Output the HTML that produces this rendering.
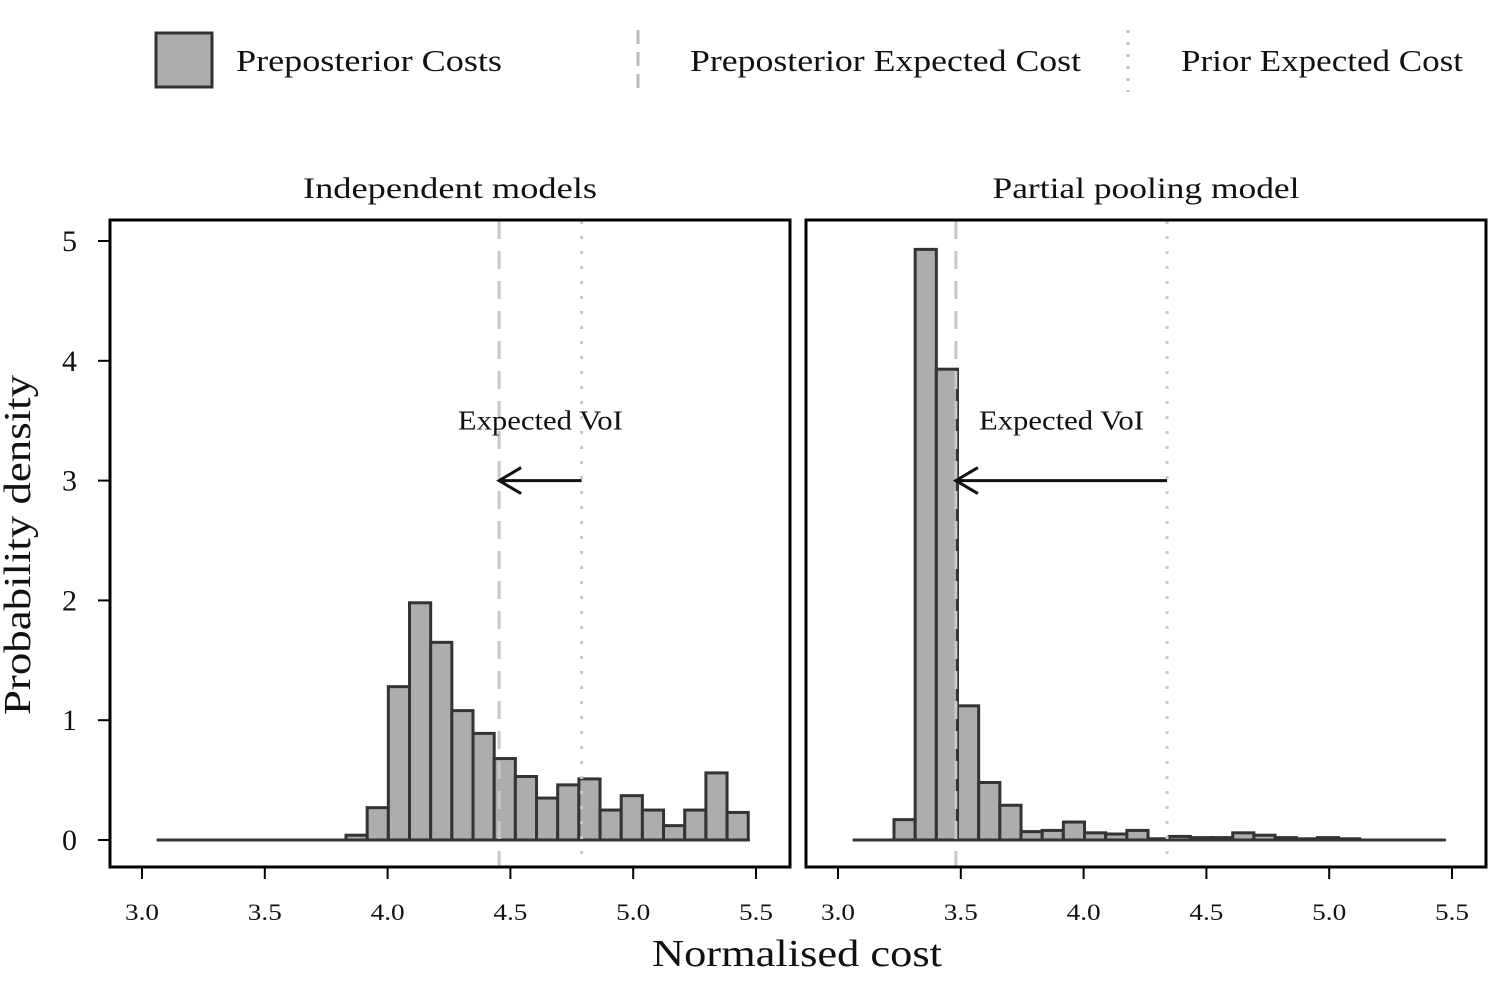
<!DOCTYPE html>
<html><head><meta charset="utf-8"><style>
body{margin:0;background:#fff;}
svg text{font-family:"Liberation Serif",serif;fill:#111;}
</style></head><body>
<svg id="chart" width="1504" height="979">
<g>
<rect x="156" y="33" width="56" height="54" fill="#adadad" stroke="#333" stroke-width="3"/>
<text x="236" y="71" font-size="31" textLength="266" lengthAdjust="spacingAndGlyphs">Preposterior Costs</text>
<line x1="638" y1="30" x2="638" y2="92" stroke="#bbb" stroke-width="3" stroke-dasharray="14,8"/>
<text x="690" y="71" font-size="31" textLength="391" lengthAdjust="spacingAndGlyphs">Preposterior Expected Cost</text>
<line x1="1128" y1="30" x2="1128" y2="92" stroke="#bbb" stroke-width="3" stroke-dasharray="3,9"/>
<text x="1181" y="71" font-size="31" textLength="282" lengthAdjust="spacingAndGlyphs">Prior Expected Cost</text>
</g>
<text x="30" y="545" font-size="38" text-anchor="middle" textLength="340" lengthAdjust="spacingAndGlyphs" transform="rotate(-90 30 545)">Probability density</text>
<text x="797" y="966" font-size="38" text-anchor="middle" textLength="290" lengthAdjust="spacingAndGlyphs">Normalised cost</text>
<g id="panels"></g>
</svg>
<script>
const leftStart = 3.8306;
const rightStart = 3.228;
const binWidth = 0.0862;
const leftDensity = [0.04,0.27,1.28,1.98,1.65,1.08,0.89,0.68,0.53,0.35,0.46,0.51,0.25,0.37,0.25,0.12,0.25,0.56,0.23];
const rightDensity = [0.17,4.93,3.93,1.12,0.48,0.29,0.07,0.08,0.15,0.06,0.05,0.08,0.01,0.03,0.02,0.02,0.06,0.04,0.02,0.01,0.02,0.01];
const xTicks = [3.0,3.5,4.0,4.5,5.0,5.5];
const yTicks = [0,1,2,3,4,5];
const titles = ["Independent models","Partial pooling model"];
const titleWidths = [294,307];
const preposteriorExpected = [4.454,3.48];
const priorExpected = [4.79,4.34];
const baselineRange = [[3.06,5.475],[3.06,5.475]];
const panelLeft = [110,806];
const NS="http://www.w3.org/2000/svg";
const root=document.getElementById('panels');
function mk(tag,attrs,parent){const e=document.createElementNS(NS,tag);for(const k in attrs)e.setAttribute(k,attrs[k]);(parent||root).appendChild(e);return e;}
function yS(v){return 840-v*119.8;}
[leftDensity,rightDensity].forEach((dens,p)=>{
  const off=panelLeft[p]-110;
  const xS=v=>142+off+(v-3.0)*245.6;
  const start=p===0?leftStart:rightStart;
  const g=mk('g',{});
  
  
  const t=mk('text',{x:panelLeft[p]+340,y:198,'font-size':30,'text-anchor':'middle',textLength:titleWidths[p],lengthAdjust:'spacingAndGlyphs'},g);
  t.textContent=titles[p];
  
  
  const bl=mk('line',{x1:xS(baselineRange[p][0]),x2:xS(baselineRange[p][1]),y1:840,y2:840,stroke:'#333','stroke-width':3},g);
  
  
  dens.forEach((d,i)=>{
    const x0=xS(start+i*binWidth),x1=xS(start+(i+1)*binWidth);
    const r=mk('rect',{x:x0,y:yS(d),width:x1-x0,height:840-yS(d),fill:'#adadad',stroke:'#333','stroke-width':3},g);
    
    
  });
  const dl=mk('line',{x1:xS(preposteriorExpected[p]),x2:xS(preposteriorExpected[p]),y1:221,y2:866,stroke:'#c8c8c8','stroke-width':3,'stroke-dasharray':'18,12'},g);
  
  
  const pl=mk('line',{x1:xS(priorExpected[p]),x2:xS(priorExpected[p]),y1:221,y2:866,stroke:'#c8c8c8','stroke-width':3,'stroke-dasharray':'3,12'},g);
  
  
  const ax1=xS(priorExpected[p]),ax2=xS(preposteriorExpected[p]);
  const ar=mk('path',{d:`M${ax1},${yS(3)}H${ax2+2}M${ax2+22},${yS(3)-13}L${ax2},${yS(3)}L${ax2+22},${yS(3)+13}`,stroke:'#111','stroke-width':3,fill:'none'},g);
  
  
  const lt=mk('text',{x:(ax1+ax2)/2,y:yS(3.5)+9,'font-size':27,'text-anchor':'middle',textLength:165,lengthAdjust:'spacingAndGlyphs'},g);
  lt.textContent='Expected VoI';
  
  
  const fr=mk('rect',{x:panelLeft[p],y:220,width:680,height:647,fill:'none',stroke:'#000','stroke-width':3},g);
  
  
  xTicks.forEach(v=>{
    const tk=mk('line',{x1:xS(v),x2:xS(v),y1:867,y2:879,stroke:'#000','stroke-width':2},g);
    
    
    const tl=mk('text',{x:xS(v),y:920,'font-size':23,'text-anchor':'middle',textLength:34,lengthAdjust:'spacingAndGlyphs'},g);
    tl.textContent=v.toFixed(1);
    
    
  });
  if(p===0){
    yTicks.forEach(v=>{
      const tk=mk('line',{x1:98,x2:110,y1:yS(v),y2:yS(v),stroke:'#000','stroke-width':2},g);
      
      
      const tl=mk('text',{x:77,y:yS(v)+10,'font-size':30,'text-anchor':'end'},g);
      tl.textContent=v;
      
      
    });
  }
});
</script>
</body></html>
